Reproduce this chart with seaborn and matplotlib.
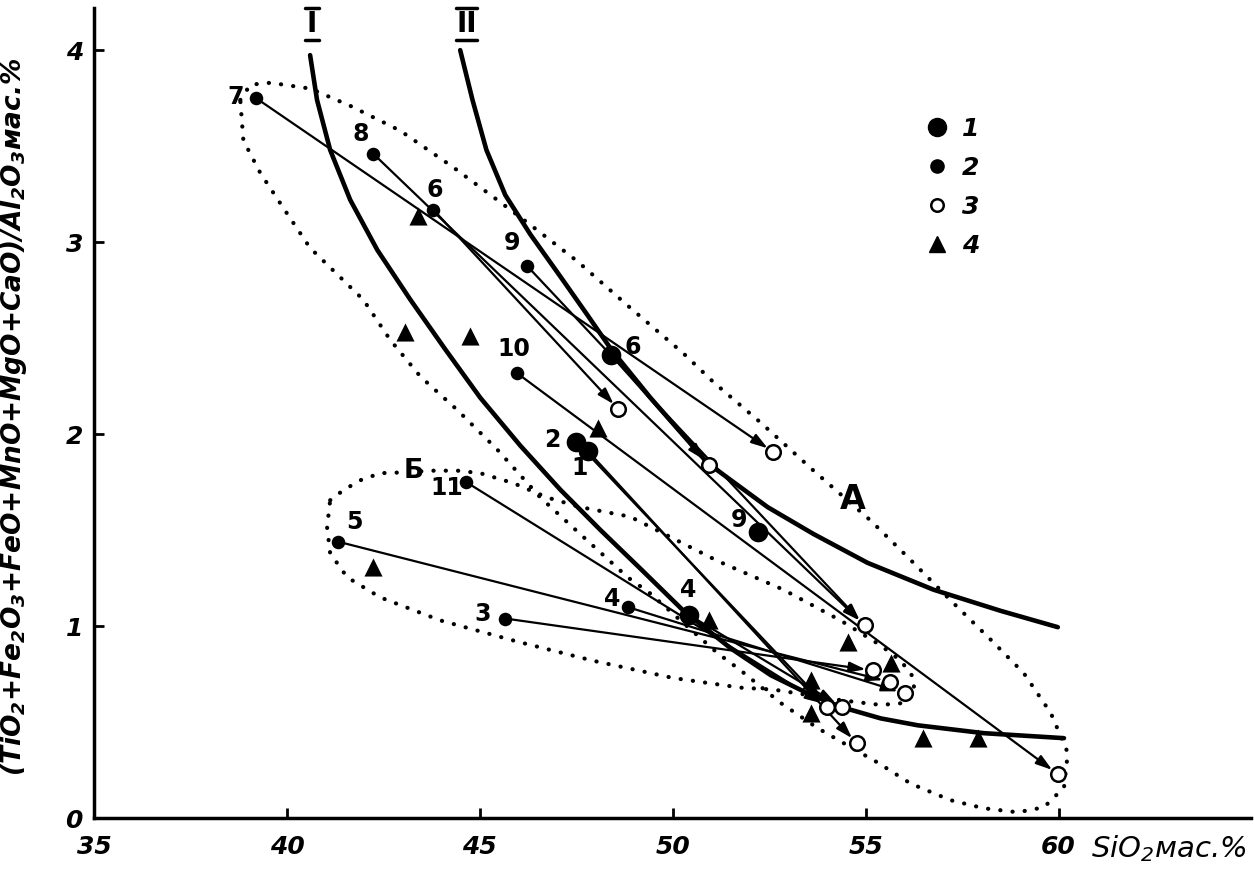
import matplotlib
matplotlib.use('Agg')
import matplotlib.pyplot as plt
import matplotlib.transforms as mtransforms
from matplotlib.lines import Line2D
import seaborn as sns

# --- data ---
# 1: large filled circles
big_x = [48.41, 47.50, 47.81, 52.22, 50.41]
big_y = [2.41, 1.96, 1.91, 1.49, 1.06]
big_lbl = ['6', '2', '1', '9', '4']

# 2: small filled circles
small_x = [39.20, 42.24, 43.79, 46.23, 45.95, 44.65, 41.33, 45.66, 48.83]
small_y = [3.75, 3.46, 3.17, 2.875, 2.32, 1.75, 1.44, 1.04, 1.10]
small_lbl = ['7', '8', '6', '9', '10', '11', '5', '3', '4']

# 3: open circles (arrow ends)
open_x = [48.59, 52.61, 50.93, 54.97, 55.18, 55.62, 56.01, 54.01, 54.38, 54.77, 59.98]
open_y = [2.13, 1.906, 1.84, 1.005, 0.77, 0.71, 0.65, 0.58, 0.58, 0.39, 0.23]

# 4: triangles
tri_x = [43.40, 43.07, 44.75, 48.07, 42.24, 50.93, 54.53, 55.65, 53.57, 53.57, 56.48, 57.90]
tri_y = [3.135, 2.53, 2.51, 2.03, 1.31, 1.03, 0.92, 0.81, 0.72, 0.55, 0.42, 0.42]

# arrows: start -> end
arr_x0 = [39.20, 42.24, 43.79, 46.23, 48.41, 45.95, 47.50, 47.81, 50.41, 44.65, 45.66, 41.33, 48.83]
arr_y0 = [3.75, 3.46, 3.17, 2.875, 2.41, 2.32, 1.96, 1.91, 1.06, 1.75, 1.04, 1.44, 1.10]
arr_x1 = [52.61, 54.97, 48.59, 54.97, 50.93, 59.98, 54.01, 54.77, 54.38, 54.01, 55.18, 55.62, 56.01]
arr_y1 = [1.906, 1.005, 2.13, 1.005, 1.84, 0.23, 0.58, 0.39, 0.58, 0.58, 0.77, 0.71, 0.65]

# boundary curves I and II
curve1_x = [40.60, 40.78, 41.12, 41.64, 42.34, 43.20, 44.11, 45.01, 46.05, 47.09, 48.13,
            49.16, 50.28, 51.50, 52.54, 53.50, 54.35, 55.39, 56.35, 58.06, 60.14]
curve1_y = [3.974, 3.74, 3.48, 3.22, 2.96, 2.70, 2.44, 2.19, 1.94, 1.71, 1.50,
            1.30, 1.08, 0.885, 0.745, 0.65, 0.58, 0.52, 0.484, 0.443, 0.417]
curve2_x = [44.49, 44.81, 45.17, 45.66, 46.31, 47.09, 47.79, 48.41, 49.42, 50.90,
            52.46, 53.65, 55.05, 56.76, 58.50, 59.98]
curve2_y = [4.0, 3.74, 3.48, 3.245, 3.04, 2.82, 2.62, 2.44, 2.19, 1.85,
            1.62, 1.48, 1.33, 1.19, 1.08, 0.995]

# dotted fields A and Б
fieldA_x = [38.79, 39.05, 39.57, 40.60, 41.64, 42.94, 44.31, 45.45, 46.31, 47.53, 48.83,
            50.28, 51.06, 52.28, 53.65, 55.13, 56.09, 57.2, 58.24, 59.1, 59.8, 60.24,
            60.14, 59.62, 58.94, 58.06, 57.2, 56.17, 55.31, 54.61, 53.75, 52.8, 51.76,
            51.16, 50.2, 49.42, 48.83, 47.6, 46.57, 45.45, 44.42, 43.46, 42.68, 41.98,
            40.6, 39.9, 39.31, 38.87, 38.79]
fieldA_y = [3.74, 3.82, 3.83, 3.80, 3.71, 3.58, 3.39, 3.22, 3.09, 2.90, 2.67,
            2.42, 2.27, 2.06, 1.81, 1.55, 1.36, 1.135, 0.93, 0.755, 0.547, 0.34,
            0.16, 0.057, 0.031, 0.052, 0.094, 0.18, 0.29, 0.37, 0.47, 0.60, 0.77,
            0.86, 1.03, 1.17, 1.255, 1.48, 1.67, 1.92, 2.125, 2.30, 2.49, 2.70,
            2.97, 3.18, 3.36, 3.53, 3.74]
fieldB_x = [41.12, 41.46, 41.9, 42.42, 42.86, 43.79, 44.42, 45.01, 45.87, 46.75, 47.61,
            48.9, 51.16, 52.87, 54.35, 55.39, 55.91, 56.25, 56.25, 55.99, 55.39, 54.35,
            52.61, 51.76, 50.02, 47.94, 45.97, 43.98, 42.42, 41.56, 41.12, 41.04, 41.12]
fieldB_y = [1.656, 1.708, 1.76, 1.797, 1.80, 1.81, 1.81, 1.797, 1.745, 1.67, 1.62,
            1.57, 1.34, 1.19, 1.03, 0.90, 0.82, 0.73, 0.65, 0.60, 0.59, 0.615,
            0.67, 0.68, 0.73, 0.82, 0.92, 1.03, 1.15, 1.255, 1.38, 1.515, 1.656]

x_ticks = [35, 40, 45, 50, 55, 60]
y_ticks = [0, 1, 2, 3, 4]

# label offsets (points) for the sample numbers
big_off = [(15, 6), (-17, 1), (-6, -12), (-14, 9), (0, 18)]
small_off = [(-15, 1), (-9, 14), (1, 14), (-11, 17), (-2, 17), (-14, -4), (12, 14), (-16, 3), (-11, 6)]

sns.set_style('ticks')
plt.rcParams['font.family'] = ['DejaVu Sans']
plt.rcParams['mathtext.default'] = 'regular'
for k in ['text.color', 'axes.labelcolor', 'xtick.color', 'ytick.color', 'axes.edgecolor']:
    plt.rcParams[k] = 'black'

fig = plt.figure(figsize=(12.54, 8.77), dpi=100)
ax = fig.add_axes([0.075, 0.067, 0.923, 0.924])
ax.set_xlim(35, 65.0)
ax.set_ylim(0, 4.22)

# dotted fields
dot_kw = dict(color='black', lw=3.0, linestyle=(0, (0.05, 2.9)), dash_capstyle='round', zorder=1)
ax.plot(fieldA_x, fieldA_y, **dot_kw)
ax.plot(fieldB_x, fieldB_y, **dot_kw)

# curves I, II
sns.lineplot(x=curve1_x, y=curve1_y, sort=False, estimator=None, color='black', lw=3.3, ax=ax, zorder=2)
sns.lineplot(x=curve2_x, y=curve2_y, sort=False, estimator=None, color='black', lw=3.3, ax=ax, zorder=2)
for ln in ax.lines[-2:]:
    ln.set_solid_joinstyle('round')
    ln.set_solid_capstyle('round')

# arrows
for x0, y0, x1, y1 in zip(arr_x0, arr_y0, arr_x1, arr_y1):
    ax.annotate('', xy=(x1, y1), xytext=(x0, y0),
                arrowprops=dict(arrowstyle='-|>,head_length=0.7,head_width=0.22', color='black',
                                lw=1.6, shrinkA=0, shrinkB=5, mutation_scale=14), zorder=3)

# markers
sns.scatterplot(x=big_x, y=big_y, s=200, color='black', marker='o', linewidth=0, ax=ax, zorder=5, legend=False)
sns.scatterplot(x=small_x, y=small_y, s=95, color='black', marker='o', linewidth=0, ax=ax, zorder=5, legend=False)
sns.scatterplot(x=open_x, y=open_y, s=110, color='white', edgecolor='black', linewidth=1.8,
                marker='o', ax=ax, zorder=5, legend=False)
sns.scatterplot(x=tri_x, y=tri_y, s=170, color='black', marker='^', linewidth=0, ax=ax, zorder=5, legend=False)

# sample numbers
lbl_kw = dict(textcoords='offset points', ha='center', va='center', fontsize=17, fontweight='bold', zorder=6)
for x, y, t, off in zip(big_x, big_y, big_lbl, big_off):
    ax.annotate(t, (x, y), xytext=off, **lbl_kw)
for x, y, t, off in zip(small_x, small_y, small_lbl, small_off):
    ax.annotate(t, (x, y), xytext=off, **lbl_kw)

# field letters
ax.text(54.66, 1.66, 'A', fontsize=24, fontweight='bold', ha='center', va='center')
ax.text(43.28, 1.81, 'Б', fontsize=19, fontweight='bold', ha='center', va='center')

# roman numerals with over/under bars
for xc, txt, hw in [(40.65, 'I', 0.18), (44.65, 'II', 0.27)]:
    ax.text(xc, 4.135, txt, fontsize=20, fontweight='bold',
            ha='center', va='center', clip_on=False)
    for dy in (11.5, -11.5):
        tr = mtransforms.offset_copy(ax.transData, fig=fig, x=0, y=dy, units='points')
        ax.plot([xc - hw, xc + hw], [4.135, 4.135], color='black', lw=2.5, transform=tr, clip_on=False)

# legend
handles = [
    Line2D([], [], ls='', marker='o', ms=13, color='black'),
    Line2D([], [], ls='', marker='o', ms=9.5, color='black'),
    Line2D([], [], ls='', marker='o', ms=9, mfc='white', mec='black', mew=1.8),
    Line2D([], [], ls='', marker='^', ms=12, color='black'),
]
ax.legend(handles, ['1', '2', '3', '4'], loc='upper left', bbox_to_anchor=(0.698, 0.893),
          frameon=False, prop=dict(size=18, style='italic', weight='bold'),
          handlelength=1.0, handletextpad=0.5, labelspacing=0.6)

# axes styling
sns.despine(ax=ax)
for s in ['left', 'bottom']:
    ax.spines[s].set_linewidth(2.5)
ax.set_xticks(x_ticks)
ax.set_yticks(y_ticks)
ax.tick_params(axis='x', direction='in', length=7, width=2, labelsize=18, pad=12)
ax.tick_params(axis='y', direction='in', length=7, width=2, labelsize=18, pad=8)
for lab in ax.get_xticklabels() + ax.get_yticklabels():
    lab.set_fontstyle('italic')
    lab.set_fontweight('bold')

ax.text(0.996, -0.037, 'SiO$_2$мас.%', transform=ax.transAxes, ha='right', va='center',
        fontsize=21, fontstyle='italic')
ax.set_ylabel('(TiO$_2$+Fe$_2$O$_3$+FeO+MnO+MgO+CaO)/Al$_2$O$_3$мас.%',
              fontsize=19, fontstyle='italic', fontweight='bold')
ax.yaxis.set_label_coords(-0.056, 0.495)

fig.savefig('out.png', dpi=100)
